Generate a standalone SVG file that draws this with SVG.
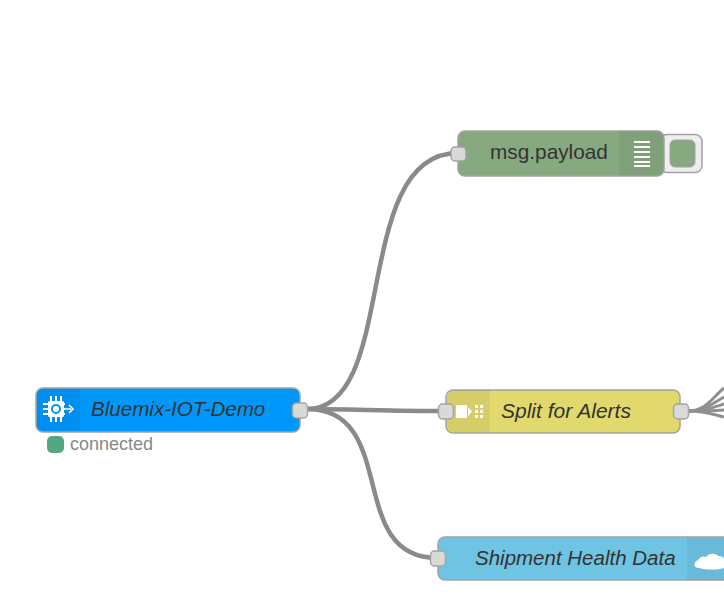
<svg xmlns="http://www.w3.org/2000/svg" width="724" height="604" viewBox="0 0 724 604">
<style>
.body{stroke:#a3a3a3;stroke-width:1.5}
.shade{fill:#000;fill-opacity:.05}
.port{fill:#d9d9d9;stroke:#a3a3a3;stroke-width:1.500}
.wire{fill:none;stroke:#8a8a8a;stroke-width:4.500}
.thin{fill:none;stroke:#909090;stroke-width:3}
.lbl{font-family:"Liberation Sans",Arial,sans-serif;font-size:20.600px;fill:#333}
.it{font-style:italic}
.ico{fill:#fff}
</style>
<rect width="724" height="604" fill="#fff"/>
<g id="connectors">
<path class="wire" d="M307 409C400 409 350 153 458 153"/>
<path class="wire" d="M307 409C350 409 390 411 445 411"/>
<path class="wire" d="M307 409C400 409 345 558 437 558"/>
<path class="thin" d="M688 411C706 411 712 398 724 388"/>
<path class="thin" d="M688 411C704 411 712 404 724 397"/>
<path class="thin" d="M688 411C704 411 712 408 724 404"/>
<path class="thin" d="M688 411C704 411 712 411 724 410"/>
<path class="thin" d="M688 411C704 411 712 414 724 417"/>
</g>
<g id="node-payload">
<rect x="660" y="134.500" width="42" height="38" rx="7" fill="#eee" stroke="#a3a3a3" stroke-width="1.500"/>
<rect x="670" y="140" width="25" height="27" rx="5" fill="#87a980" stroke="#a3a3a3" stroke-width="1"/>
<rect class="body" x="458" y="131" width="206" height="45" rx="7" fill="#87a980"/>
<path class="shade" d="M619 131.500h38a6.500 6.500 0 0 1 6.500 6.500v31a6.500 6.500 0 0 1-6.500 6.500h-38z"/>
<g class="ico"><rect x="634" y="141" width="16" height="2"/><rect x="634" y="146" width="16" height="2"/><rect x="634" y="151" width="16" height="2"/><rect x="634" y="156" width="16" height="2"/><rect x="634" y="161" width="16" height="2"/><rect x="634" y="165" width="16" height="2"/></g>
<text class="lbl" x="490" y="159" font-size="20.800" style="font-size:20.800px">msg.payload</text>
<rect class="port" x="451" y="147" width="15" height="14" rx="4"/>
</g>
<g id="node-bluemix">
<rect class="body" x="36" y="388" width="264" height="44" rx="7" fill="#0097fb"/>
<path class="shade" d="M37 396a7 7 0 0 1 7-7h36v42h-36a7 7 0 0 1-7-7z"/>
<g class="ico">
<rect x="48" y="401" width="16" height="16" rx="2"/>
<rect x="50" y="396" width="2" height="26"/><rect x="55" y="396" width="2" height="26"/><rect x="60" y="396" width="2" height="26"/>
<rect x="43" y="403" width="22" height="2"/><rect x="43" y="408" width="22" height="2"/><rect x="43" y="413" width="22" height="2"/>
<rect x="48" y="401" width="16" height="16" rx="2"/>
</g>
<circle cx="56" cy="409" r="4" fill="none" stroke="#0097fb" stroke-width="2"/>
<path d="M65 409h6M69 405l4 4l-4 4" fill="none" stroke="#fff" stroke-width="1.500"/>
<text class="lbl it" x="91" y="416">Bluemix-IOT-Demo</text>
<rect class="port" x="292.500" y="403" width="15" height="15" rx="4"/>
<rect x="47" y="436" width="17" height="17" rx="5" fill="#53a883"/>
<text x="70" y="450" font-family="'Liberation Sans',Arial,sans-serif" font-size="18" fill="#888">connected</text>
</g>
<g id="node-split">
<rect class="body" x="446" y="390" width="234" height="43" rx="7" fill="#e2d96e"/>
<path class="shade" d="M447 397a7 7 0 0 1 7-7h36v42h-36a7 7 0 0 1-7-7z"/>
<g class="ico">
<rect x="456" y="405" width="11" height="13"/>
<path d="M468 407l4 4.500l-4 4.500z"/>
<rect x="475" y="405" width="3" height="3"/><rect x="480" y="405" width="3" height="3"/>
<rect x="475" y="410" width="3" height="3"/><rect x="480" y="410" width="3" height="3"/>
<rect x="475" y="415" width="3" height="3"/><rect x="480" y="415" width="3" height="3"/>
</g>
<text class="lbl it" x="501" y="418" style="font-size:21px">Split for Alerts</text>
<rect class="port" x="438.500" y="404" width="15" height="15" rx="4"/>
<rect class="port" x="673.500" y="404" width="15" height="15" rx="4"/>
</g>
<g id="node-shipment">
<path class="body" d="M732 537H445a7 7 0 0 0-7 7v29a7 7 0 0 0 7 7H732z" fill="#6fc4e4"/>
<rect class="shade" x="687" y="538" width="37" height="42"/>
<path d="M699 568c-6 0-6-6-1-8c2-4 6-4 8-3c3-4 10-4 12-1c3 0 6 1 6 3v9c-8 2-17 2-25 0z" fill="#fff"/>
<text class="lbl it" x="475" y="565" style="font-size:20.500px">Shipment Health Data</text>
<rect class="port" x="430.500" y="551" width="15" height="15" rx="4"/>
</g>
</svg>
